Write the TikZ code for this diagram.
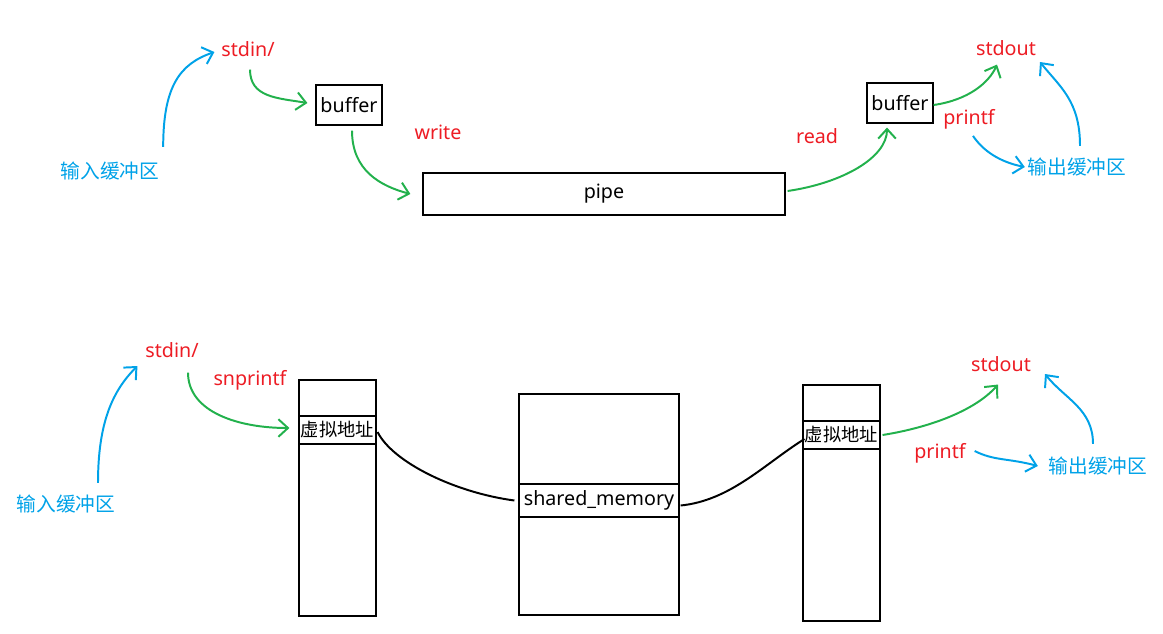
\documentclass[tikz,border=0pt]{standalone}
\usepackage{fontspec}
\setmainfont{Noto Sans}
\newfontfamily\cjk{Noto Sans CJK SC}
\usepackage{xcolor}
\definecolor{redp}{RGB}{237,28,36}
\definecolor{greenp}{RGB}{34,177,76}
\definecolor{bluep}{RGB}{0,162,232}
\usetikzlibrary{arrows.meta}

\begin{document}
\begin{tikzpicture}[x=0.025cm, y=-0.025cm, >={Straight Barb[length=2.4mm,width=4.4mm]},
  every node/.style={font=\fontsize{14}{16}\selectfont},
  box/.style={draw, line width=0.8pt, inner sep=0pt},
  vaddr/.style={box, minimum width=1.925cm, minimum height=0.7cm, font=\cjk\fontsize{13}{15}\selectfont},
  redlbl/.style={text=redp},
  bluelbl/.style={text=bluep, font=\cjk\fontsize{14}{16}\selectfont},
  gflow/.style={->, greenp, line width=1.4pt},
  bflow/.style={->, bluep, line width=1.4pt},
  link/.style={line width=1.4pt}]
  \useasboundingbox (0,0) rectangle (1163,633);

  % Pipe: top row
  \node[redlbl] (stdinA) at (248,49) {stdin/};
  \node[box, minimum width=1.65cm, minimum height=1cm] (bufA) at (349,105) {buffer};
  \node[redlbl] (write) at (438,132) {write};
  \node[box, minimum width=9.05cm, minimum height=1.05cm] (pipe) at (604,194) {pipe};
  \node[redlbl] (read) at (817,136) {read};
  \node[box, minimum width=1.65cm, minimum height=1cm] (bufB) at (900,103) {buffer};
  \node[redlbl] (stdoutA) at (1006,48) {stdout};
  \node[redlbl] (printfA) at (969,119) {printf};
  \node[bluelbl] (inA) at (110,171) {输入缓冲区};
  \node[bluelbl] (outA) at (1077,167) {输出缓冲区};

  \draw[bflow] ([shift={(-1,-10)}]inA.north east) .. controls +(0,-60) and +(-35,12) .. ([shift={(-2,3)}]stdinA.west);
  \draw[gflow] ([shift={(2,8)}]stdinA.south) .. controls +(0,28) and +(-30,-5) .. ([shift={(-8,-2)}]bufA.west);
  \draw[gflow] ([shift={(3,5)}]bufA.south) .. controls +(0,40) and +(-30,-8) .. ([shift={(-12,0)}]pipe.west);
  \draw[gflow] ([shift={(2,-3)}]pipe.east) .. controls +(55,-8) and +(0,30) .. ([shift={(-13,4)}]bufB.south);
  \draw[gflow] ([shift={(0,2)}]bufB.east) .. controls +(35,-5) and +(-8,18) .. ([shift={(-9,4)}]stdoutA.south);
  \draw[bflow] ([shift={(3,-7)}]outA.north) .. controls +(0,-45) and +(20,25) .. (1040,62);
  \draw[bflow] ([shift={(4,2)}]printfA.south) .. controls +(10,15) and +(-25,-5) .. ([shift={(2,0)}]outA.west);

  % Shared memory: bottom row
  \node[redlbl] (stdinB) at (172,350) {stdin/};
  \node[redlbl] (snprintf) at (250,380) {snprintf};
  \node[bluelbl] (inB) at (66,504) {输入缓冲区};
  \node[box, minimum width=1.925cm, minimum height=5.9cm] (colL) at (337.5,498) {};
  \node[vaddr] (vaL) at (337.5,430) {虚拟地址};
  \node[box, minimum width=4cm, minimum height=5.525cm] (colM) at (599,504.5) {};
  \node[box, minimum width=4cm, minimum height=0.825cm] (shmem) at (599,500.5) {shared\_memory};
  \node[box, minimum width=1.925cm, minimum height=5.9cm] (colR) at (841.5,503) {};
  \node[vaddr] (vaR) at (841.5,435) {虚拟地址};
  \node[redlbl] (stdoutB) at (1001,364) {stdout};
  \node[redlbl] (printfB) at (940,453) {printf};
  \node[bluelbl] (outB) at (1098,466) {输出缓冲区};

  \draw[bflow] ([shift={(32,-7)}]inB.north) .. controls +(0,-60) and +(-25,25) .. ([shift={(-3,16)}]stdinB.west);
  \draw[gflow] ([shift={(16,10)}]stdinB.south) .. controls +(0,40) and +(-50,0) .. ([shift={(-9,-2)}]vaL.west);
  \draw[link] ([shift={(1,2)}]vaL.east) .. controls +(15,30) and +(-60,-8) .. ([shift={(-4,0)}]shmem.west);
  \draw[link] ([shift={(1,5)}]shmem.east) .. controls +(50,-5) and +(-40,25) .. ([shift={(2,4)}]vaR.west);
  \draw[gflow] ([shift={(2,0)}]vaR.east) .. controls +(50,-8) and +(-22,25) .. ([shift={(-3,8)}]stdoutB.south);
  \draw[bflow] ([shift={(4,-2)}]printfB.east) .. controls +(20,10) and +(-30,-8) .. ([shift={(-6,0)}]outB.west);
  \draw[bflow] ([shift={(-5,-8)}]outB.north) .. controls +(0,-35) and +(20,25) .. (1045,374);
\end{tikzpicture}
\end{document}
